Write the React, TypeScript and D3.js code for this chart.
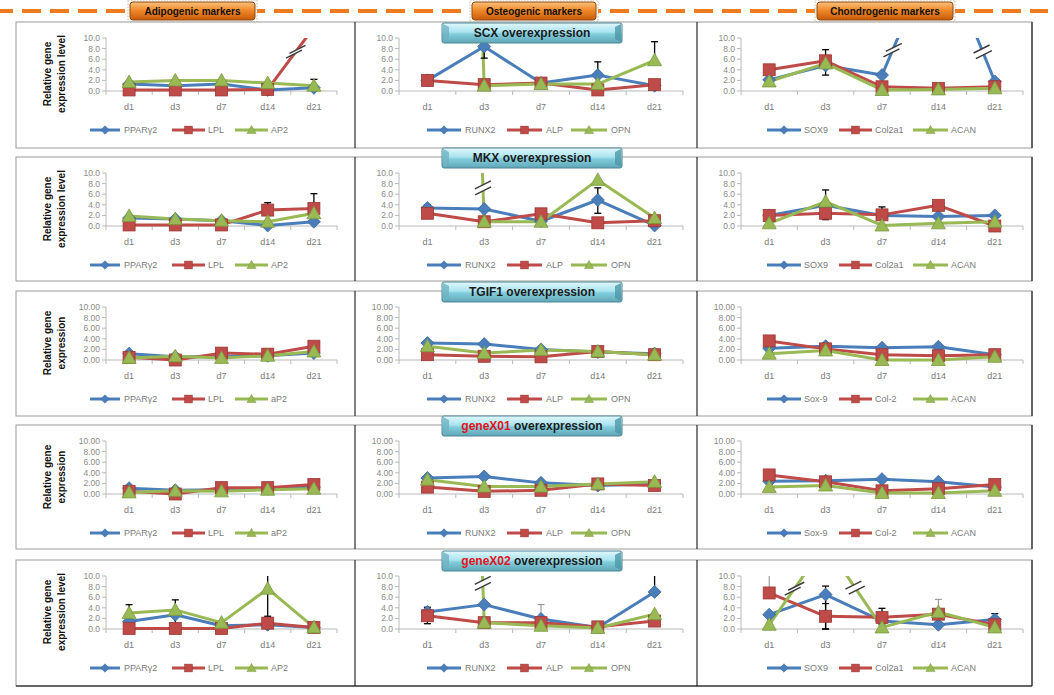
import React from "react";
import * as d3 from "d3";

// ---------- data ----------
const days = ["d1", "d3", "d7", "d14", "d21"];
const rowTitles = ["SCX", "MKX", "TGIF1", "geneX01", "geneX02"];
const headerLabels = ["Adipogenic markers", "Osteogenic  markers", "Chondrogenic markers"];
const yLabelLong = ["Relative gene", "expression level"];
const yLabelShort = ["Relative gene", "expression"];

const adipoNames = ["PPARγ2", "LPL", "AP2"];
const adipoNamesB = ["PPARγ2", "LPL", "aP2"];
const osteoNames = ["RUNX2", "ALP", "OPN"];
const chondroNames = ["SOX9", "Col2a1", "ACAN"];
const chondroNamesB = ["Sox-9", "Col-2", "ACAN"];

// series values: [blue, red, green] per panel, by day
const scxAdipo = [[1.3, 1.0, 1.3, 0.2, 0.6], [0.2, 0.2, 0.2, 0.3, 12], [1.7, 2.0, 2.0, 1.5, 1.0]];
const scxOsteo = [[2.0, 8.4, 1.5, 3.0, 1.0], [2.0, 1.2, 1.5, 0.2, 1.2], [300, 1.0, 1.3, 1.3, 5.8]];
const scxChondro = [[2.1, 4.8, 3.0, 28, 1.8], [4.0, 5.7, 0.8, 0.5, 0.8], [1.8, 5.2, 0.2, 0.3, 0.5]];
const mkxAdipo = [[1.5, 1.3, 1.0, 0.1, 0.8], [0.2, 0.2, 0.2, 3.0, 3.3], [1.9, 1.3, 1.0, 0.8, 2.4]];
const mkxOsteo = [[3.4, 3.2, 0.9, 4.9, 0.1], [2.4, 0.8, 2.3, 0.6, 1.0], [300, 0.8, 0.8, 8.7, 1.5]];
const mkxChondro = [[2.0, 3.9, 2.0, 1.8, 2.0], [2.0, 2.4, 2.1, 3.9, 0.0], [0.5, 4.6, 0.1, 0.5, 0.8]];
const tgifAdipo = [[1.2, 0.6, 0.6, 0.8, 1.3], [0.5, 0.0, 1.3, 1.1, 2.6], [0.4, 0.7, 0.4, 0.8, 1.6]];
const tgifOsteo = [[3.2, 3.0, 2.0, 1.5, 1.2], [1.0, 0.7, 0.6, 1.6, 1.0], [2.6, 1.3, 1.9, 1.6, 1.0]];
const tgifChondro = [[2.2, 2.6, 2.3, 2.5, 1.0], [3.6, 2.1, 1.0, 0.8, 1.0], [1.2, 1.8, 0.0, 0.0, 0.6]];
const gx01Adipo = [[1.1, 0.7, 0.8, 1.0, 1.3], [0.5, 0.0, 1.2, 1.2, 1.8], [0.3, 0.6, 0.5, 0.8, 1.0]];
const gx01Osteo = [[3.0, 3.3, 2.1, 1.6, 1.9], [1.3, 0.5, 0.7, 1.9, 1.6], [2.7, 1.4, 1.4, 1.9, 2.3]];
const gx01Chondro = [[2.4, 2.5, 2.8, 2.3, 1.3], [3.6, 2.3, 0.6, 1.0, 1.8], [1.3, 1.6, 0.2, 0.2, 0.6]];
const gx02Adipo = [[1.4, 2.7, 0.6, 0.8, 0.3], [0.1, 0.1, 0.1, 1.1, 0.3], [3.0, 3.6, 1.2, 7.6, 0.3]];
const gx02Osteo = [[3.2, 4.6, 1.9, 0.3, 7.0], [2.5, 1.2, 1.2, 0.4, 1.5], [300, 1.2, 0.6, 0.2, 2.8]];
const gx02Chondro = [[2.7, 6.5, 1.5, 0.8, 1.8], [6.8, 2.4, 2.2, 2.8, 0.8], [0.8, 16, 0.3, 3.2, 0.3]];

// error bars: [series, day, plus, minus, gray]
const scxAdipoErr = [[2, 4, 1.2, 0, 0]];
const scxOsteoErr = [[0, 1, 0, 2.2, 0], [0, 3, 2.5, 0, 0], [2, 4, 3.5, 0, 0]];
const scxChondroErr = [[0, 1, 3.0, 1.8, 0]];
const mkxAdipoErr = [[1, 3, 1.4, 0, 0], [1, 4, 2.8, 0, 0]];
const mkxOsteoErr = [[0, 0, 0.6, 0, 0], [0, 3, 2.3, 2.5, 0]];
const mkxChondroErr = [[2, 1, 2.2, 3.4, 0], [1, 2, 1.5, 0, 0]];
const noErr: number[][] = [];
const gx02AdipoErr = [[2, 0, 1.6, 0, 0], [2, 1, 1.9, 0, 0], [2, 3, 2.6, 5.2, 0], [0, 1, 0, 2.0, 0]];
const gx02OsteoErr = [[1, 0, 1.6, 1.5, 0], [0, 2, 2.7, 0, 1], [0, 4, 3.2, 0, 0]];
const gx02ChondroErr = [[1, 0, 3.5, 0, 1], [0, 1, 1.6, 6.5, 0], [1, 1, 2.4, 2.4, 0], [1, 2, 1.7, 0, 0], [2, 3, 2.4, 0, 1], [0, 4, 1.1, 0, 0]];

// axis-break marks: [series, segment start day, value where drawn]
const scxAdipoBrk = [[1, 3, 7.4]];
const scxChondroBrk = [[0, 2, 7.7], [0, 3, 7.4]];
const mkxOsteoBrk = [[2, 0, 7.2]];
const gx02OsteoBrk = [[2, 0, 8.6]];
const gx02ChondroBrk = [[2, 0, 7.6], [2, 1, 7.8]];
const noBrk: number[][] = [];

const yTicks = [0, 2, 4, 6, 8, 10];

// ---------- layout ----------
const W = 1054, H = 695;
const COLORS = ["#4A7EBB", "#BE4B48", "#98B954"];
const STROKES = ["#3A679C", "#9C3734", "#7A9A3E"];
const AXES = [{ ax: 106, end: 337 }, { ax: 399, end: 683 }, { ax: 741, end: 1023 }];
const ROW_TOPS = [22, 157, 291, 425, 560];
const ROW_BOTTOMS = [148, 281, 416, 549, 686];
const LEG = [
  [[-16, 14, 18], [66, 99, 102], [129, 162, 165]],
  [[28, 62, 66], [108, 143, 147], [172, 208, 212]],
  [[26, 60, 63], [98, 131, 134], [172, 207, 210]],
];
const FONT = "'Liberation Sans', Arial, sans-serif";

type Panel = {
  row: number; col: number; names: string[]; values: number[][];
  errors: number[][]; breaks: number[][];
};

const panels: Panel[] = [
  { row: 0, col: 0, names: adipoNames, values: scxAdipo, errors: scxAdipoErr, breaks: scxAdipoBrk },
  { row: 0, col: 1, names: osteoNames, values: scxOsteo, errors: scxOsteoErr, breaks: noBrk },
  { row: 0, col: 2, names: chondroNames, values: scxChondro, errors: scxChondroErr, breaks: scxChondroBrk },
  { row: 1, col: 0, names: adipoNames, values: mkxAdipo, errors: mkxAdipoErr, breaks: noBrk },
  { row: 1, col: 1, names: osteoNames, values: mkxOsteo, errors: mkxOsteoErr, breaks: mkxOsteoBrk },
  { row: 1, col: 2, names: chondroNames, values: mkxChondro, errors: mkxChondroErr, breaks: noBrk },
  { row: 2, col: 0, names: adipoNamesB, values: tgifAdipo, errors: noErr, breaks: noBrk },
  { row: 2, col: 1, names: osteoNames, values: tgifOsteo, errors: noErr, breaks: noBrk },
  { row: 2, col: 2, names: chondroNamesB, values: tgifChondro, errors: noErr, breaks: noBrk },
  { row: 3, col: 0, names: adipoNamesB, values: gx01Adipo, errors: noErr, breaks: noBrk },
  { row: 3, col: 1, names: osteoNames, values: gx01Osteo, errors: noErr, breaks: noBrk },
  { row: 3, col: 2, names: chondroNamesB, values: gx01Chondro, errors: noErr, breaks: noBrk },
  { row: 4, col: 0, names: adipoNames, values: gx02Adipo, errors: gx02AdipoErr, breaks: noBrk },
  { row: 4, col: 1, names: osteoNames, values: gx02Osteo, errors: gx02OsteoErr, breaks: gx02OsteoBrk },
  { row: 4, col: 2, names: chondroNames, values: gx02Chondro, errors: gx02ChondroErr, breaks: gx02ChondroBrk },
];

function Marker({ kind, x, y }: { kind: number; x: number; y: number }) {
  if (kind === 0)
    return <path d={`M${x},${y - 6.5}L${x + 6.5},${y}L${x},${y + 6.5}L${x - 6.5},${y}Z`} fill={COLORS[0]} stroke={STROKES[0]} strokeWidth={0.8} />;
  if (kind === 1)
    return <rect x={x - 6} y={y - 6} width={12} height={12} fill={COLORS[1]} stroke={STROKES[1]} strokeWidth={0.8} />;
  return <path d={`M${x},${y - 7}L${x + 7},${y + 5.5}L${x - 7},${y + 5.5}Z`} fill={COLORS[2]} stroke={STROKES[2]} strokeWidth={0.8} />;
}

function ChartPanel({ p, idx }: { p: Panel; idx: number }) {
  const { ax, end } = AXES[p.col];
  const top = ROW_TOPS[p.row] + 16;
  const bottom = ROW_TOPS[p.row] + 69;
  const x = d3.scaleBand<string>().domain(days).range([ax, end]).padding(0);
  const bw = x.bandwidth();
  const cx = (i: number) => (x(days[i]) as number) + bw / 2;
  const y = d3.scaleLinear().domain([0, 10]).range([bottom, top]);
  const fmt = d3.format(p.row === 2 || p.row === 3 ? ".2f" : ".1f");
  const line = d3.line<number>().x((_, i) => cx(i)).y((v) => y(v));
  const clipId = `clip${idx}`;
  const legY = bottom + 39;
  return (
    <g>
      <defs>
        <clipPath id={clipId}>
          <rect x={ax - 40} y={top} width={end - ax + 80} height={bottom - top + 30} />
        </clipPath>
      </defs>
      {/* axes */}
      <line x1={ax} x2={ax} y1={top} y2={bottom} stroke="#b8b8b8" />
      <line x1={ax} x2={end} y1={bottom} y2={bottom} stroke="#b8b8b8" />
      {yTicks.map((t) => (
        <g key={t}>
          <line x1={ax - 4} x2={ax} y1={y(t)} y2={y(t)} stroke="#b8b8b8" />
          <text x={ax - 6} y={y(t)} dy="0.35em" textAnchor="end" fontSize={8.5} fill="#8a8a8a" fontFamily={FONT}>{fmt(t)}</text>
        </g>
      ))}
      {d3.range(days.length + 1).map((i) => (
        <line key={i} x1={ax + i * bw} x2={ax + i * bw} y1={bottom} y2={bottom + 4} stroke="#b8b8b8" />
      ))}
      {days.map((d, i) => (
        <text key={d} x={cx(i)} y={bottom + 16} dy="0.35em" textAnchor="middle" fontSize={9} fill="#7a7a7a" fontFamily={FONT}>{d}</text>
      ))}
      {/* lines */}
      <g clipPath={`url(#${clipId})`}>
        {p.values.map((vals, s) => (
          <path key={s} d={line(vals) as string} fill="none" stroke={COLORS[s]} strokeWidth={3} strokeLinejoin="round" />
        ))}
        {p.errors.map((e, k) => {
          const [s, di, plus, minus, gray] = e;
          const v = p.values[s][di];
          const xx = cx(di);
          const col = gray ? "#8c8c8c" : "#000";
          return (
            <g key={k} stroke={col} strokeWidth={gray ? 1 : 1.3}>
              <line x1={xx} x2={xx} y1={y(v + plus)} y2={y(v - minus)} />
              {plus > 0 && <line x1={xx - 3.5} x2={xx + 3.5} y1={y(v + plus)} y2={y(v + plus)} />}
              {minus > 0 && <line x1={xx - 3.5} x2={xx + 3.5} y1={y(v - minus)} y2={y(v - minus)} />}
            </g>
          );
        })}
      </g>
      {/* markers */}
      {p.values.map((vals, s) =>
        vals.map((v, i) => (v <= 10 ? <Marker key={`${s}-${i}`} kind={s} x={cx(i)} y={y(v)} /> : null))
      )}
      {/* break marks */}
      {p.breaks.map((b, k) => {
        const [s, i0, yv] = b;
        const v0 = p.values[s][i0], v1 = p.values[s][i0 + 1];
        const t = (yv - v0) / (v1 - v0);
        const x0 = cx(i0), x1 = cx(i0 + 1);
        const px = x0 + t * (x1 - x0);
        const py = y(yv);
        const dx = x1 - x0, dy = y(v1) - y(v0);
        const len = Math.hypot(dx, dy);
        const ux = dx / len, uy = dy / len;
        const g = 3;
        const a = { x: 8, y: -4 };
        const p1 = { x: px - ux * g, y: py - uy * g };
        const p2 = { x: px + ux * g, y: py + uy * g };
        const poly = `${p1.x - a.x},${p1.y - a.y} ${p1.x + a.x},${p1.y + a.y} ${p2.x + a.x},${p2.y + a.y} ${p2.x - a.x},${p2.y - a.y}`;
        return (
          <g key={k}>
            <polygon points={poly} fill="#fff" />
            <line x1={p1.x - a.x} y1={p1.y - a.y} x2={p1.x + a.x} y2={p1.y + a.y} stroke="#3c3c3c" strokeWidth={1.5} />
            <line x1={p2.x - a.x} y1={p2.y - a.y} x2={p2.x + a.x} y2={p2.y + a.y} stroke="#3c3c3c" strokeWidth={1.5} />
          </g>
        );
      })}
      {/* legend */}
      {p.names.map((n, s) => {
        const [l0, l1, tx] = LEG[p.col][s];
        return (
          <g key={n}>
            <line x1={ax + l0} x2={ax + l1} y1={legY} y2={legY} stroke={COLORS[s]} strokeWidth={3} />
            <g transform={`translate(${ax + (l0 + l1) / 2},${legY}) scale(0.65)`}>
              <Marker kind={s} x={0} y={0} />
            </g>
            <text x={ax + tx} y={legY} dy="0.35em" fontSize={9} fill="#7a7a7a" fontFamily={FONT}>{n}</text>
          </g>
        );
      })}
    </g>
  );
}

function Badge({ row }: { row: number }) {
  const top = row === 0 ? 23 : ROW_TOPS[row] - 9;
  const x0 = 442, w = 180, h = 20;
  const name = rowTitles[row];
  const red = name.startsWith("gene");
  return (
    <g>
      <rect x={x0} y={top} width={w} height={h} rx={2} fill="url(#badgeGrad)" stroke="#4f8795" strokeWidth={1} />
      <path d={`M${x0 + 1},${top + 1}L${x0 + 7},${top + 4}L${x0 + 7},${top + h - 4}L${x0 + 1},${top + h - 1}Z`} fill="#6fb3c3" opacity={0.8} />
      <path d={`M${x0 + w - 1},${top + 1}L${x0 + w - 7},${top + 4}L${x0 + w - 7},${top + h - 4}L${x0 + w - 1},${top + h - 1}Z`} fill="#4f97a8" opacity={0.8} />
      <text x={x0 + w / 2} y={top + h / 2} dy="0.36em" textAnchor="middle" fontSize={12} fontWeight="bold" fontFamily={FONT} fill="#1c1c1c">
        <tspan fill={red ? "#e3141c" : "#1c1c1c"}>{name}</tspan>
        <tspan> overexpression</tspan>
      </text>
    </g>
  );
}

const BUTTONS = [{ x: 130, w: 125 }, { x: 472, w: 124 }, { x: 817, w: 136 }];

export default function App() {
  return (
    <svg width={W} height={H} style={{ position: "absolute", left: 0, top: 0, background: "#fff" }}>
      <defs>
        <linearGradient id="badgeGrad" x1="0" y1="0" x2="0" y2="1">
          <stop offset="0" stopColor="#e2f8fc" />
          <stop offset="0.45" stopColor="#a9e3ef" />
          <stop offset="0.55" stopColor="#82cddd" />
          <stop offset="1" stopColor="#5fa6b6" />
        </linearGradient>
        <linearGradient id="btnGrad" x1="0" y1="0" x2="0" y2="1">
          <stop offset="0" stopColor="#fbc27e" />
          <stop offset="0.45" stopColor="#f08a2a" />
          <stop offset="1" stopColor="#c9590a" />
        </linearGradient>
      </defs>
      {/* header */}
      <line x1={0} x2={W} y1={11} y2={11} stroke="#ef7d1f" strokeWidth={4} strokeDasharray="19 9" transform="translate(-6,0)" />
      {BUTTONS.map((b, i) => (
        <g key={i}>
          <rect x={b.x - 2} y={0} width={b.w + 4} height={22} fill="#fff" stroke="#c9a27a" strokeDasharray="1.5 1.5" strokeWidth={0.8} />
          <rect x={b.x} y={2} width={b.w} height={18} rx={3} fill="url(#btnGrad)" stroke="#8b4a10" strokeWidth={1} />
          <text x={b.x + b.w / 2} y={11} dy="0.36em" textAnchor="middle" fontSize={10} fontWeight="bold" fontFamily={FONT} fill="#111">
            {headerLabels[i]}
          </text>
        </g>
      ))}
      {/* row frames */}
      {ROW_TOPS.map((t, r) => (
        <g key={r}>
          <rect x={16} y={t} width={1016} height={ROW_BOTTOMS[r] - t} fill="#fff" stroke="#9a9a9a" strokeWidth={1} />
          <line x1={355} x2={355} y1={t} y2={ROW_BOTTOMS[r]} stroke="#000" />
          <line x1={697} x2={697} y1={t} y2={ROW_BOTTOMS[r]} stroke="#000" />
          <line x1={1032} x2={1032} y1={t} y2={ROW_BOTTOMS[r]} stroke="#000" />
          {r === 4 && <line x1={16} x2={1032} y1={ROW_BOTTOMS[r]} y2={ROW_BOTTOMS[r]} stroke="#000" />}
          <text transform={`translate(51,${t + 52}) rotate(-90)`} textAnchor="middle" fontSize={10} fontWeight="bold" fontFamily={FONT} fill="#111">
            {(r === 2 || r === 3 ? yLabelShort : yLabelLong).map((s, k) => (
              <tspan key={k} x={0} dy={k === 0 ? 0 : 14}>{s}</tspan>
            ))}
          </text>
        </g>
      ))}
      {panels.map((p, i) => (
        <ChartPanel key={i} p={p} idx={i} />
      ))}
      {ROW_TOPS.map((_, r) => (
        <Badge key={r} row={r} />
      ))}
    </svg>
  );
}
